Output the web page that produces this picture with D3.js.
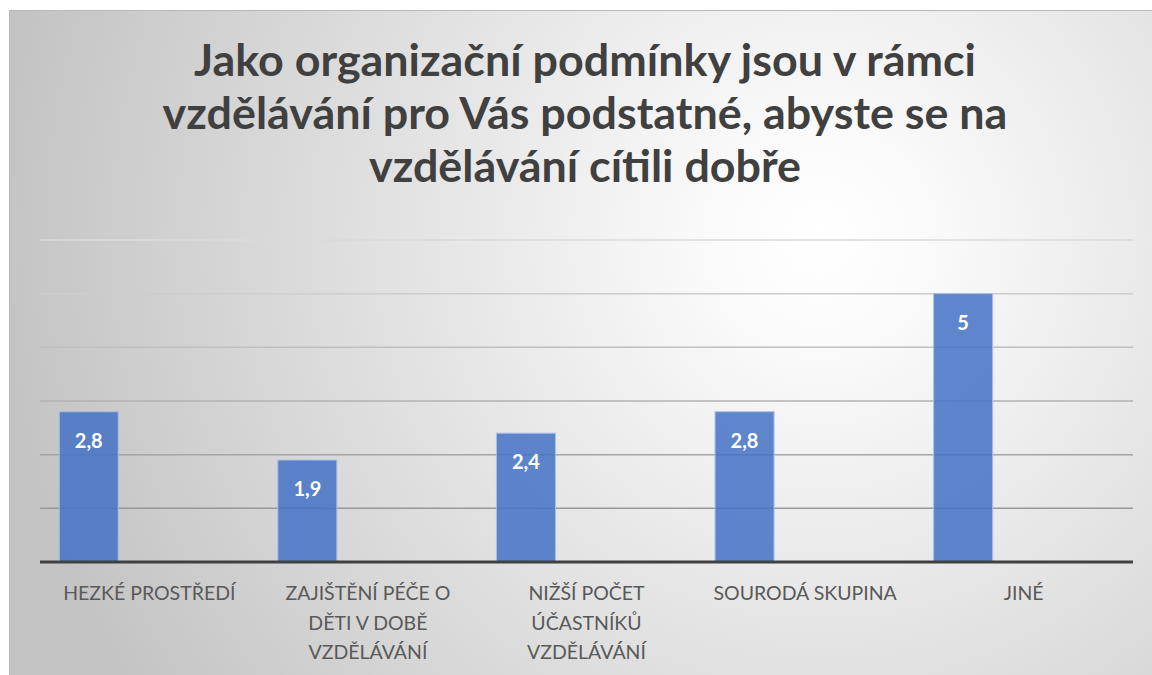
<!DOCTYPE html>
<html>
<head>
  <meta charset="utf-8">
  <script src="https://d3js.org/d3.v7.min.js"></script>
  <style>
    body { margin: 0; background: #fff; }
    svg { display: block; }
  </style>
</head>
<body>
<script>
  // chart data
  var categories = ["HEZKÉ PROSTŘEDÍ", "ZAJIŠTĚNÍ PÉČE O DĚTI V DOBĚ VZDĚLÁVÁNÍ",
                    "NIŽŠÍ POČET ÚČASTNÍKŮ VZDĚLÁVÁNÍ", "SOURODÁ SKUPINA", "JINÉ"];
  var values = [2.8, 1.9, 2.4, 2.8, 5];
  var yTicks = [0, 1, 2, 3, 4, 5, 6];
  var titleLines = ["Jako organizační podmínky jsou v rámci",
                    "vzdělávání pro Vás podstatné, abyste se na",
                    "vzdělávání cítili dobře"];

  var W = 1152, H = 675;
  var plot = {left: 40, right: 1133, top: 240, bottom: 562};

  var svg = d3.select("body").append("svg")
      .attr("width", W).attr("height", H);

  var defs = svg.append("defs");
  var bg = defs.append("radialGradient").attr("id", "bg")
      .attr("gradientUnits", "userSpaceOnUse")
      .attr("cx", 820).attr("cy", 240).attr("r", 820);
  bg.append("stop").attr("offset", 0).attr("stop-color", "#ffffff");
  bg.append("stop").attr("offset", 0.12).attr("stop-color", "#fbfbfb");
  bg.append("stop").attr("offset", 1).attr("stop-color", "#c4c4c4");

  var gl = defs.append("linearGradient").attr("id", "grid")
      .attr("gradientUnits", "userSpaceOnUse")
      .attr("x1", 0).attr("y1", plot.top).attr("x2", 0).attr("y2", plot.bottom);
  gl.append("stop").attr("offset", 0).attr("stop-color", "#dadada");
  gl.append("stop").attr("offset", 1).attr("stop-color", "#8a8a8a");

  // chart area
  svg.append("rect")
      .attr("x", 9.5).attr("y", 10.5)
      .attr("width", W).attr("height", H)
      .attr("fill", "url(#bg)")
      .attr("stroke", "#b8b8b8").attr("stroke-width", 1);

  // title, fitted to the width of the original lines
  var title = svg.append("g")
      .attr("font-family", "Lato, 'Open Sans', sans-serif")
      .attr("font-weight", "bold")
      .attr("fill", "#404040")
      .attr("text-anchor", "middle");
  var tl = title.selectAll("text").data(titleLines).join("text")
      .attr("x", 585)
      .attr("y", function(d, i) { return 76 + i * 53; })
      .attr("font-size", 40)
      .text(function(d) { return d; });
  var w2 = tl.nodes()[1].getComputedTextLength();
  tl.attr("font-size", 40 * 845 / w2);

  var x = d3.scaleBand().domain(categories).range([plot.left, plot.right]);
  var y = d3.scaleLinear().domain([0, 6]).range([plot.bottom, plot.top]);

  // gridlines
  svg.append("g").selectAll("line").data(yTicks.filter(function(d) { return d > 0; }))
    .join("line")
      .attr("x1", plot.left).attr("x2", plot.right)
      .attr("y1", function(d) { return y(d); })
      .attr("y2", function(d) { return y(d); })
      .attr("stroke", "url(#grid)")
      .attr("stroke-width", 1.5);

  // bars (first of three cluster slots, the other two empty)
  var bw = x.bandwidth() * 0.27;
  var boff = x.bandwidth() * 0.088;
  svg.append("g").selectAll("rect").data(values).join("rect")
      .attr("x", function(d, i) { return x(categories[i]) + boff; })
      .attr("y", function(d) { return y(d); })
      .attr("width", bw)
      .attr("height", function(d) { return y(0) - y(d); })
      .attr("fill", "#4472c4")
      .attr("fill-opacity", 0.85)
      .attr("stroke", "#a9bfe6")
      .attr("stroke-width", 1);

  // data labels
  svg.append("g").selectAll("text").data(values).join("text")
      .attr("x", function(d, i) { return x(categories[i]) + boff + bw / 2; })
      .attr("y", function(d) { return y(d) + 36; })
      .attr("text-anchor", "middle")
      .attr("font-family", "Lato, sans-serif")
      .attr("font-weight", "bold")
      .attr("font-size", 20)
      .attr("fill", "#ffffff")
      .text(function(d) { return String(d).replace(".", ","); });

  // x axis
  var xAxis = svg.append("g")
      .attr("transform", "translate(0," + plot.bottom + ")")
      .call(d3.axisBottom(x).tickSize(0).tickPadding(0));
  xAxis.select(".domain").attr("stroke", "#404040").attr("stroke-width", 3)
      .attr("d", "M" + plot.left + ",0H" + plot.right);
  xAxis.selectAll(".tick text")
      .attr("font-family", "Lato, sans-serif")
      .attr("font-size", 19.5)
      .attr("fill", "#595959")
      .attr("y", 38)
      .attr("dy", 0)
      .call(wrap, 195);

  function wrap(sel, width) {
    sel.each(function() {
      var text = d3.select(this),
          words = text.text().split(" "),
          line = [], lines = [];
      text.text(null);
      var probe = text.append("tspan");
      words.forEach(function(w) {
        line.push(w);
        probe.text(line.join(" "));
        if (probe.node().getComputedTextLength() > width && line.length > 1) {
          line.pop();
          lines.push(line.join(" "));
          line = [w];
        }
      });
      lines.push(line.join(" "));
      probe.remove();
      lines.forEach(function(l, i) {
        text.append("tspan").attr("x", 0).attr("y", 38 + i * 29.5).text(l);
      });
    });
  }
</script>
</body>
</html>
